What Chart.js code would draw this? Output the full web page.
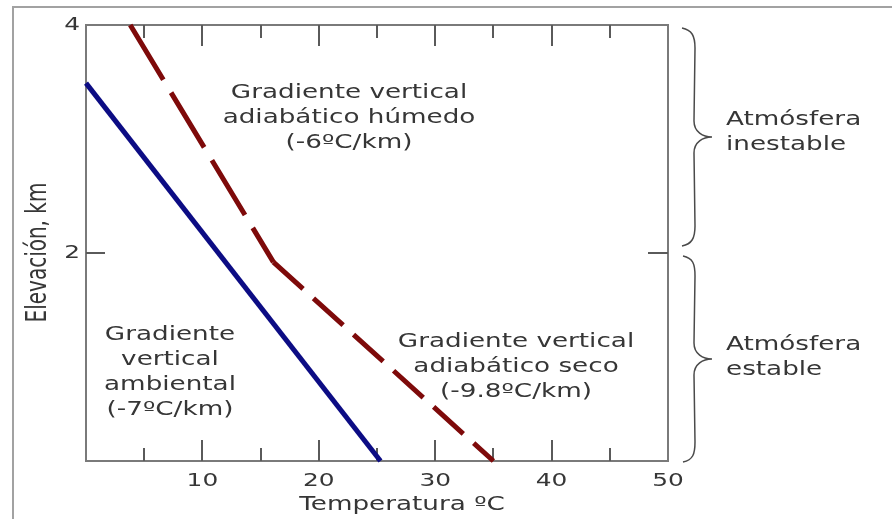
<!DOCTYPE html>
<html>
<head>
<meta charset="utf-8">
<script src="https://cdn.jsdelivr.net/npm/chart.js@4/dist/chart.umd.min.js"></script>
<style>
  html, body { margin: 0; padding: 0; background: #ffffff; }
  #c { display: block; }
</style>
</head>
<body>
<canvas id="c" width="892" height="519"></canvas>
<script>
// ---- data ----
const tempAmbiental = [0, 25.3];
const elevAmbiental = [3.49, 0.175];
const tempAdiabatico = [3.8, 16.1, 35.0];
const elevAdiabatico = [4, 1.92, 0.175];
const xMin = 0, xMax = 50, xStep = 5;
const yMin = 0.175, yMax = 4;
const yTickValues = [2, 4];
const xTitle = 'Temperatura ºC';
const yTitle = 'Elevación, km';
const noteHumedo = ['Gradiente vertical', 'adiabático húmedo', '(-6ºC/km)'];
const noteSeco = ['Gradiente vertical', 'adiabático seco', '(-9.8ºC/km)'];
const noteAmbiental = ['Gradiente', 'vertical', 'ambiental', '(-7ºC/km)'];
const noteInestable = ['Atmósfera', 'inestable'];
const noteEstable = ['Atmósfera', 'estable'];

// ---- styling ----
const SX = 1.38;                 // horizontal stretch of the reference text
const FONT = 'DejaVu Sans';
const TEXT = '#363636';
const AXIS = '#7a7a7a';

function toPoints(xs, ys) { return xs.map((x, i) => ({ x: x, y: ys[i] })); }

const stretchPlugin = {
  id: 'stretch',
  beforeInit(chart) {
    const ctx = chart.ctx;
    const base = CanvasRenderingContext2D.prototype.fillText;
    ctx.fillText = function (t, x, y, mw) {
      const m = this.getTransform();
      const p = m.transformPoint(new DOMPoint(x, y));
      this.save();
      this.setTransform(new DOMMatrix().translate(p.x, p.y).scale(SX, 1).translate(-p.x, -p.y).multiply(m));
      if (mw === undefined) base.call(this, t, x, y); else base.call(this, t, x, y, mw);
      this.restore();
    };
  }
};

function drawBrace(ctx, x0, y0, y1) {
  const mid = (y0 + y1) / 2;
  const sp = 695, tip = 712;
  ctx.beginPath();
  ctx.moveTo(x0, y0);
  ctx.bezierCurveTo(x0 + 10, y0 + 2, sp, y0 + 8, sp, y0 + 20);
  ctx.lineTo(sp - 1, mid - 16);
  ctx.bezierCurveTo(sp - 1, mid - 5, sp + 8, mid, tip, mid);
  ctx.bezierCurveTo(sp + 8, mid, sp - 1, mid + 5, sp - 1, mid + 16);
  ctx.lineTo(sp, y1 - 20);
  ctx.bezierCurveTo(sp, y1 - 8, x0 + 10, y1 - 2, x0, y1);
  ctx.stroke();
}

function drawLines(ctx, lines, x, y0, gap, align) {
  ctx.textAlign = align;
  lines.forEach((s, i) => ctx.fillText(s, x, y0 + i * gap));
}

const decorPlugin = {
  id: 'decor',
  beforeDraw(chart) {
    const ctx = chart.ctx;
    ctx.save();
    ctx.fillStyle = '#ffffff';
    ctx.fillRect(0, 0, chart.width, chart.height);
    ctx.strokeStyle = '#a2a2a2';
    ctx.lineWidth = 2;
    ctx.beginPath();
    ctx.moveTo(13, chart.height);
    ctx.lineTo(13, 7);
    ctx.lineTo(chart.width, 7);
    ctx.stroke();
    ctx.restore();
  },
  beforeDatasetsDraw(chart) {
    const ctx = chart.ctx;
    const a = chart.chartArea;
    const xs = chart.scales.x, ys = chart.scales.y;
    ctx.save();
    ctx.strokeStyle = AXIS;
    ctx.lineWidth = 2;
    ctx.strokeRect(a.left, a.top, a.right - a.left, a.bottom - a.top);
    ctx.strokeStyle = '#5a5a5a';
    ctx.beginPath();
    xs.ticks.forEach(t => {
      if (t.value <= xMin || t.value >= xMax) return;
      const px = Math.round(xs.getPixelForValue(t.value));
      const len = t.value % 10 === 0 ? 21 : 13;
      ctx.moveTo(px, a.bottom); ctx.lineTo(px, a.bottom - len);
      ctx.moveTo(px, a.top); ctx.lineTo(px, a.top + len);
    });
    ys.ticks.forEach(t => {
      if (t.value <= yMin || t.value >= yMax) return;
      const py = Math.round(ys.getPixelForValue(t.value));
      ctx.moveTo(a.left, py); ctx.lineTo(a.left + 19, py);
      ctx.moveTo(a.right, py); ctx.lineTo(a.right - 20, py);
    });
    ctx.stroke();
    ctx.restore();
  },
  afterDraw(chart) {
    const ctx = chart.ctx;
    ctx.save();
    ctx.fillStyle = TEXT;
    ctx.font = '19px "' + FONT + '"';
    ctx.textBaseline = 'middle';
    drawLines(ctx, noteHumedo, 349, 93, 25, 'center');
    drawLines(ctx, noteSeco, 516, 342, 25, 'center');
    drawLines(ctx, noteAmbiental, 170, 335, 25, 'center');
    drawLines(ctx, noteInestable, 726, 120, 25, 'left');
    drawLines(ctx, noteEstable, 726, 345, 25, 'left');
    ctx.strokeStyle = '#4a4a4a';
    ctx.lineWidth = 1.5;
    drawBrace(ctx, 682, 28, 246);
    drawBrace(ctx, 683, 256, 462);
    ctx.restore();
  }
};

new Chart(document.getElementById('c'), {
  type: 'line',
  data: {
    datasets: [
      {
        label: 'Gradiente vertical ambiental',
        data: toPoints(tempAmbiental, elevAmbiental),
        borderColor: '#0c0c84',
        borderWidth: 5,
        pointRadius: 0,
        tension: 0,
        clip: false
      },
      {
        label: 'Gradiente vertical adiabático',
        data: toPoints(tempAdiabatico, elevAdiabatico),
        borderColor: '#7e0a0a',
        borderWidth: 5,
        pointRadius: 0,
        tension: 0,
        clip: false,
        borderCapStyle: 'butt',
        borderDash: [40, 14],
        segment: {
          borderDash: c => c.p0DataIndex === 0 ? [64, 15] : [40, 14]
        }
      }
    ]
  },
  options: {
    responsive: false,
    animation: false,
    events: [],
    layout: { padding: { left: 0, right: 224, top: 25, bottom: 0 } },
    plugins: { legend: { display: false }, tooltip: { enabled: false } },
    scales: {
      x: {
        type: 'linear',
        min: xMin, max: xMax,
        grid: { display: false, drawTicks: false },
        border: { display: false },
        ticks: {
          stepSize: xStep,
          autoSkip: false,
          maxRotation: 0,
          padding: 10,
          color: TEXT,
          font: { family: FONT, size: 18 },
          callback: v => (v % 10 === 0 && v > 0) ? String(v) : ''
        },
        title: {
          display: true,
          text: '      ' + xTitle,
          color: TEXT,
          font: { family: FONT, size: 19 },
          padding: { top: 0, bottom: 3 }
        },
        afterFit: s => { s.height = 58; }
      },
      y: {
        type: 'linear',
        min: yMin, max: yMax,
        afterBuildTicks: s => { s.ticks = yTickValues.map(v => ({ value: v })); },
        grid: { display: false, drawTicks: false },
        border: { display: false },
        ticks: {
          padding: 6,
          color: TEXT,
          font: { family: FONT, size: 18 },
          callback: v => String(v)
        },
        title: {
          display: true,
          text: yTitle + '   ',
          color: TEXT,
          font: { family: FONT, size: 20 },
          padding: { top: 27, bottom: 0 }
        },
        afterFit: s => { s.width = 86; }
      }
    }
  },
  plugins: [stretchPlugin, decorPlugin]
});
</script>
</body>
</html>
